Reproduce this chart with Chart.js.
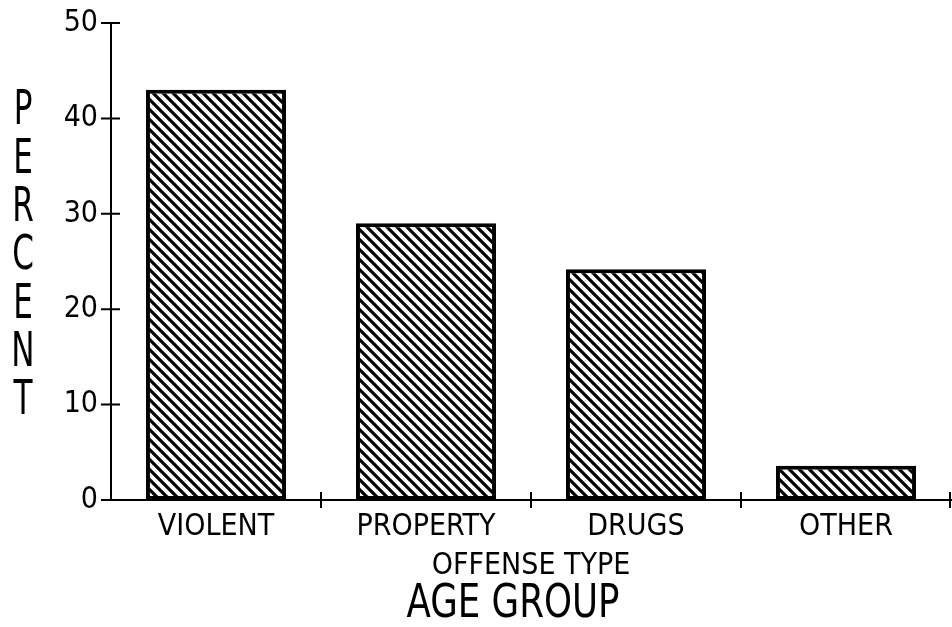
<!DOCTYPE html>
<html>
<head>
<meta charset="utf-8">
<script src="https://cdn.jsdelivr.net/npm/chart.js@4/dist/chart.umd.min.js"></script>
<style>
  html, body { margin: 0; padding: 0; background: #fff; }
  #wrap { width: 952px; height: 627px; }
</style>
</head>
<body>
<div id="wrap"><canvas id="offenseChart" width="952" height="627"></canvas></div>
<script>
// Données
const categories = ["VIOLENT", "PROPERTY", "DRUGS", "OTHER"];
const percents = [43.0, 29.0, 24.2, 3.6];
const yTicks = [0, 10, 20, 30, 40, 50];
const yLabel = "PERCENT";
const xLabel = "OFFENSE TYPE";
const chartTitle = "AGE GROUP";

const FONT = '"Liberation Sans Narrow", "DejaVu Sans Condensed", "Roboto Condensed", sans-serif';

// Hachures diagonales (\\\)
function makeHatch() {
    const c = document.createElement("canvas");
    c.width = 10;
    c.height = 10;
    const g = c.getContext("2d");
    g.fillStyle = "#fff";
    g.fillRect(0, 0, 10, 10);
    g.strokeStyle = "#000";
    g.lineWidth = 3.2;
    g.beginPath();
    g.moveTo(-5, -5); g.lineTo(15, 15);
    g.moveTo(-5, 5); g.lineTo(5, 15);
    g.moveTo(5, -5); g.lineTo(15, 5);
    g.stroke();
    return g.createPattern(c, "repeat");
}

// Petits traits d'axes + textes PERCENT / AGE GROUP
const axisMarks = {
    id: "axisMarks",
    afterDraw(chart) {
        const ctx = chart.ctx;
        const x = chart.scales.x;
        const y = chart.scales.y;
        ctx.save();
        ctx.strokeStyle = "#000";
        ctx.lineWidth = 2;
        ctx.beginPath();
        yTicks.forEach(v => {
            const py = y.getPixelForValue(v);
            ctx.moveTo(y.right - 10, py);
            ctx.lineTo(y.right + 9, py);
        });
        for (let i = 0; i < categories.length; i++) {
            let px;
            if (i < categories.length - 1) {
                px = (x.getPixelForTick(i) + x.getPixelForTick(i + 1)) / 2;
            } else {
                px = x.right - 1;
            }
            ctx.moveTo(px, x.top - 8);
            ctx.lineTo(px, x.top + 8);
        }
        ctx.stroke();

        ctx.fillStyle = "#000";
        ctx.textAlign = "center";
        ctx.textBaseline = "middle";

        // PERCENT, lettres empilées
        ctx.font = "48px " + FONT;
        const letters = yLabel.split("");
        const step = 48.3;
        letters.forEach((l, i) => {
            const cy = 112 + i * step;
            ctx.save();
            ctx.translate(23, cy);
            ctx.scale(0.72, 1);
            ctx.fillText(l, 0, 0);
            ctx.restore();
        });

        // AGE GROUP, sous le titre de l'axe
        ctx.font = "46px " + FONT;
        ctx.save();
        ctx.translate(513, 605);
        ctx.scale(0.86, 1);
        ctx.fillText(chartTitle, 0, 0);
        ctx.restore();
        ctx.restore();
    }
};

Chart.defaults.color = "#000";
Chart.defaults.font.family = FONT;

const chart = new Chart(document.getElementById("offenseChart"), {
    type: "bar",
    data: {
        labels: categories,
        datasets: [{
            data: percents,
            backgroundColor: makeHatch(),
            borderColor: "#000",
            borderWidth: 4,
            borderSkipped: false,
            barPercentage: 0.667,
            categoryPercentage: 1.0
        }]
    },
    options: {
        responsive: false,
        animation: false,
        layout: { padding: { top: 23, right: 1, left: 0, bottom: 46 } },
        plugins: {
            legend: { display: false },
            tooltip: { enabled: false },
            title: { display: false }
        },
        scales: {
            x: {
                offset: true,
                grid: { display: false, drawTicks: false },
                border: { display: true, color: "#000", width: 2 },
                ticks: { padding: 12, font: { size: 30, lineHeight: 1 }, color: "#000" },
                title: {
                    display: true,
                    text: xLabel,
                    font: { size: 30, lineHeight: 1 },
                    padding: { top: 0, bottom: 0 }
                },
                afterFit(scale) { scale.height = 81; }
            },
            y: {
                min: 0,
                max: 50,
                afterBuildTicks(scale) { scale.ticks = yTicks.map(v => ({ value: v })); },
                grid: { display: false, drawTicks: false },
                border: { display: true, color: "#000", width: 2 },
                ticks: { padding: 13, font: { size: 30, lineHeight: 1 }, color: "#000" },
                afterFit(scale) {
                    scale.width = 111;
                    scale.paddingTop = 0;
                    scale.paddingBottom = 0;
                }
            }
        }
    },
    plugins: [axisMarks]
});
</script>
</body>
</html>
